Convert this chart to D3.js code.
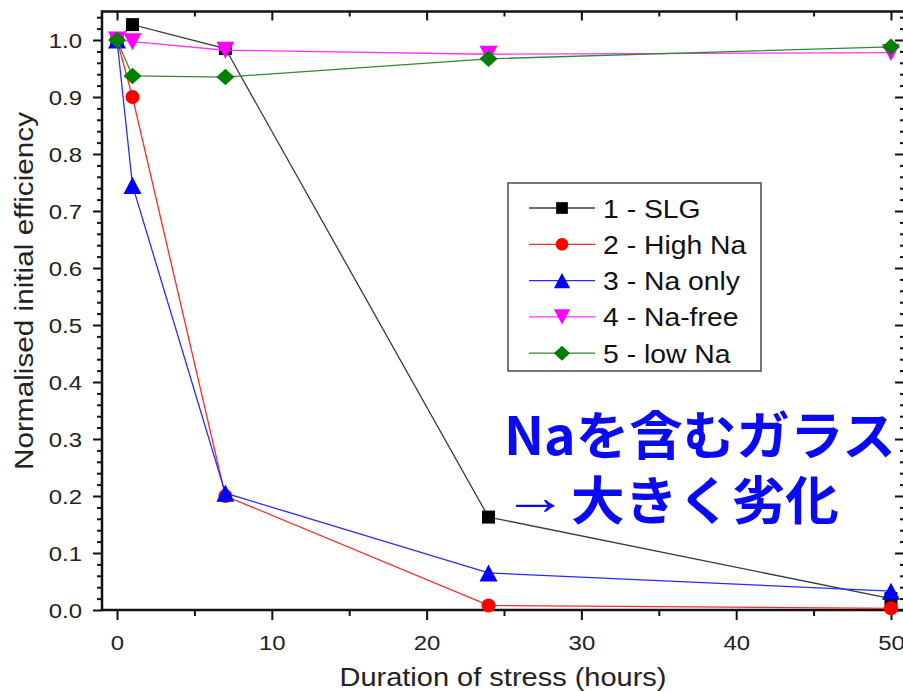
<!DOCTYPE html>
<html>
<head>
<meta charset="utf-8">
<script src="https://cdn.jsdelivr.net/npm/d3@7"></script>
<style>
  body { margin: 0; background: #fff; }
  svg { display: block; }
</style>
</head>
<body>
<svg id="chart" width="903" height="691"></svg>
<script>
// Stress duration (hours) and normalised initial efficiency per glass type
const hours = [0, 1, 7, 24, 50];
const seriesNames = ["1 - SLG", "2 - High Na", "3 - Na only", "4 - Na-free", "5 - low Na"];
const slg    = [1.000, 1.027, 0.985, 0.163, 0.020];
const highNa = [1.000, 0.900, 0.200, 0.008, 0.003];
const naOnly = [1.000, 0.745, 0.205, 0.065, 0.033];
const naFree = [1.000, 0.997, 0.982, 0.975, 0.978];
const lowNa  = [1.000, 0.937, 0.935, 0.967, 0.988];
const xTicks = [0, 10, 20, 30, 40, 50];
const yTicks = [0.0, 0.1, 0.2, 0.3, 0.4, 0.5, 0.6, 0.7, 0.8, 0.9, 1.0];
const noteLine1 = "Naを含むガラス";
const noteArrow = "→";
const noteLine2 = "大きく劣化";

// Custom marker shapes; "size" is the half-extent in px
const sq = { draw(c, r) { c.rect(-r, -r, 2 * r, 2 * r); } };
const circ = { draw(c, r) { c.moveTo(r, 0); c.arc(0, 0, r, 0, 2 * Math.PI); } };
const triUp = { draw(c, r) { c.moveTo(0, -r * 0.95); c.lineTo(r, r * 0.95); c.lineTo(-r, r * 0.95); c.closePath(); } };
const triDown = { draw(c, r) { c.moveTo(0, r * 0.95); c.lineTo(r, -r * 0.95); c.lineTo(-r, -r * 0.95); c.closePath(); } };
const diamond = { draw(c, r) { c.moveTo(0, -r * 0.92); c.lineTo(r, 0); c.lineTo(0, r * 0.92); c.lineTo(-r, 0); c.closePath(); } };

const series = [
  { name: seriesNames[0], values: slg,    fill: "#000000", line: "#3a3a3a", shape: sq,      r: 6.5 },
  { name: seriesNames[1], values: highNa, fill: "#ff0000", line: "#ff2a2a", shape: circ,    r: 7 },
  { name: seriesNames[2], values: naOnly, fill: "#0000ff", line: "#2a2aff", shape: triUp,   r: 9 },
  { name: seriesNames[3], values: naFree, fill: "#ff00ff", line: "#ff33ff", shape: triDown, r: 9 },
  { name: seriesNames[4], values: lowNa,  fill: "#008000", line: "#2f8a2f", shape: diamond, r: 9 }
];

const svg = d3.select("#chart");
const L = 102, R = 906, T = 11.5, B = 610;

const x = d3.scaleLinear().domain([-0.97, 50.97]).range([L, R]);
const y = d3.scaleLinear().domain([0, 1.05]).range([B, T]);

const FONT = "'Liberation Sans', Arial, Helvetica, sans-serif";

// widen glyphs horizontally along the text direction
function widen(sel, k) {
  sel.each(function () {
    const prev = this.getAttribute("transform") || "";
    this.setAttribute("transform", (prev + " scale(" + k + ",1)").trim());
  });
}

const minorY = d3.range(0, 1.05, 0.02).filter(v => Math.abs(Math.round(v * 10) / 10 - v) > 1e-6);
const minorX = [5, 15, 25, 35, 45];

// ---------- axes ----------
// left (outward ticks)
const gLeft = svg.append("g").attr("transform", `translate(${L},0)`);
gLeft.append("g").call(d3.axisLeft(y).tickValues(minorY).tickSize(5).tickFormat(""))
  .call(g => g.select(".domain").remove());
const leftMajor = gLeft.append("g").call(d3.axisLeft(y).tickValues(yTicks).tickSize(9).tickPadding(11).tickFormat(d3.format(".1f")))
  .call(g => g.select(".domain").remove());

// right (inward ticks)
const gRight = svg.append("g").attr("transform", `translate(${R},0)`);
gRight.append("g").call(d3.axisLeft(y).tickValues(minorY).tickSize(6).tickFormat(""))
  .call(g => g.select(".domain").remove());
gRight.append("g").call(d3.axisLeft(y).tickValues(yTicks).tickSize(11).tickFormat(""))
  .call(g => g.select(".domain").remove());

// bottom (outward ticks)
const gBottom = svg.append("g").attr("transform", `translate(0,${B})`);
gBottom.append("g").call(d3.axisBottom(x).tickValues(minorX).tickSize(6).tickFormat(""))
  .call(g => g.select(".domain").remove());
const bottomMajor = gBottom.append("g").call(d3.axisBottom(x).tickValues(xTicks).tickSize(10).tickPadding(12).tickFormat(d3.format("d")))
  .call(g => g.select(".domain").remove());

// top (inward ticks)
const gTop = svg.append("g").attr("transform", `translate(0,${T})`);
gTop.append("g").call(d3.axisBottom(x).tickValues(minorX).tickSize(5).tickFormat(""))
  .call(g => g.select(".domain").remove());
gTop.append("g").call(d3.axisBottom(x).tickValues(xTicks).tickSize(9).tickFormat(""))
  .call(g => g.select(".domain").remove());

svg.selectAll(".tick line").attr("stroke", "#111").attr("stroke-width", 2);

// tick labels
const kTick = 1.14;
leftMajor.selectAll("text")
  .attr("font-family", FONT).attr("font-size", 21).attr("fill", "#222")
  .attr("x", -20 / kTick).attr("dy", "0.36em");
widen(leftMajor.selectAll("text"), kTick);
bottomMajor.selectAll("text")
  .attr("font-family", FONT).attr("font-size", 21).attr("fill", "#222")
  .attr("y", 40).attr("dy", 0);
widen(bottomMajor.selectAll("text"), kTick);

// frame
svg.append("line").attr("x1", L).attr("x2", L).attr("y1", T - 1).attr("y2", B + 1).attr("stroke", "#111").attr("stroke-width", 2.5);
svg.append("line").attr("x1", L - 1).attr("x2", R + 1).attr("y1", B).attr("y2", B).attr("stroke", "#111").attr("stroke-width", 2.5);
svg.append("line").attr("x1", L - 1).attr("x2", R + 1).attr("y1", T).attr("y2", T).attr("stroke", "#111").attr("stroke-width", 2.5);
svg.append("line").attr("x1", R).attr("x2", R).attr("y1", T).attr("y2", B).attr("stroke", "#111").attr("stroke-width", 2.5);

// axis titles
const xt = svg.append("text").attr("transform", "translate(503,686)")
  .attr("text-anchor", "middle").attr("font-family", FONT).attr("font-size", 25).attr("fill", "#222")
  .text("Duration of stress (hours)");
widen(xt, 1.16);
const yt = svg.append("text").attr("transform", "translate(33,291) rotate(-90)")
  .attr("text-anchor", "middle").attr("font-family", FONT).attr("font-size", 25).attr("fill", "#222")
  .text("Normalised initial efficiency");
widen(yt, 1.19);

// ---------- series ----------
const lineGen = d3.line().x(d => x(d[0])).y(d => y(d[1]));
const plot = svg.append("g");
series.forEach(s => {
  const pts = hours.map((h, i) => [h, s.values[i]]);
  const g = plot.append("g");
  g.append("path").attr("d", lineGen(pts)).attr("fill", "none")
    .attr("stroke", s.line).attr("stroke-width", 1.3);
  g.selectAll("path.m").data(pts).join("path").attr("class", "m")
    .attr("transform", d => `translate(${x(d[0])},${y(d[1])})`)
    .attr("d", d3.symbol().type(s.shape).size(s.r))
    .attr("fill", s.fill);
});

// ---------- legend ----------
const leg = svg.append("g");
leg.append("rect").attr("x", 508).attr("y", 183).attr("width", 253).attr("height", 188)
  .attr("fill", "#fff").attr("stroke", "#555").attr("stroke-width", 1.6);
series.forEach((s, i) => {
  const cy = 208 + i * 36.3;
  leg.append("line").attr("x1", 529).attr("x2", 595).attr("y1", cy).attr("y2", cy)
    .attr("stroke", s.line).attr("stroke-width", 1.3);
  leg.append("path").attr("transform", `translate(562,${cy})`)
    .attr("d", d3.symbol().type(s.shape).size(s.r * 0.9)).attr("fill", s.fill);
  const t = leg.append("text").attr("transform", `translate(603,${cy + 9.5})`)
    .attr("font-family", FONT).attr("font-size", 26).attr("fill", "#111").text(s.name);
  widen(t, 1.09);
});

// ---------- annotation ----------
const JP = "'Noto Sans CJK JP', 'Noto Sans CJK SC', sans-serif";
const blue = "#0a0af5";
const n1 = svg.append("text").attr("transform", "translate(504,455)")
  .attr("font-family", JP).attr("font-weight", "bold").attr("font-size", 52).attr("fill", blue)
  .text(noteLine1);
widen(n1, 1.03);
const na = svg.append("text").attr("transform", "translate(503,514)")
  .attr("font-family", FONT).attr("font-size", 50).attr("fill", blue)
  .text(noteArrow);
widen(na, 1.3);
const n2 = svg.append("text").attr("transform", "translate(571,520)")
  .attr("font-family", JP).attr("font-weight", "bold").attr("font-size", 52).attr("fill", blue)
  .text(noteLine2);
widen(n2, 1.03);
</script>
</body>
</html>
